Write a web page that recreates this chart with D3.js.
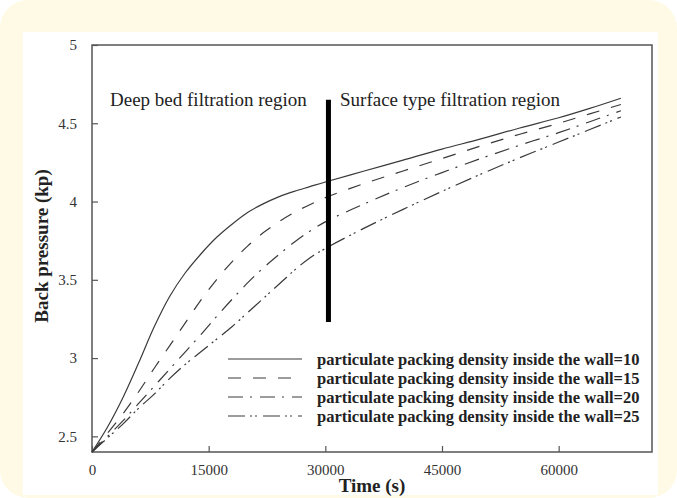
<!DOCTYPE html>
<html>
<head>
<meta charset="utf-8">
<script src="https://cdn.jsdelivr.net/npm/d3@7"></script>
<style>
    body { margin: 0; background: #fff; }
    svg { display: block; }
</style>
</head>
<body>
<div id="chart"></div>
<script>
// time axis (s) shared by all series
var timeS = [0, 2000, 4000, 6000, 8000, 10000, 12000, 14000, 16000, 18000, 20000, 22000,
    24000, 26000, 28000, 30000, 35000, 40000, 45000, 50000, 55000, 60000, 64000, 68000];

// back pressure (kp) for each packing density
var density10 = [2.4, 2.56, 2.75, 2.97, 3.20, 3.395, 3.545, 3.665, 3.77, 3.855, 3.93, 3.985,
    4.03, 4.065, 4.095, 4.125, 4.195, 4.265, 4.335, 4.40, 4.47, 4.535, 4.595, 4.66];
var density15 = [2.4, 2.52, 2.645, 2.785, 2.935, 3.08, 3.225, 3.37, 3.50, 3.615, 3.715, 3.80,
    3.87, 3.93, 3.98, 4.025, 4.115, 4.195, 4.275, 4.355, 4.43, 4.50, 4.56, 4.62];
var density20 = [2.4, 2.50, 2.60, 2.71, 2.82, 2.93, 3.04, 3.15, 3.265, 3.375, 3.48, 3.575,
    3.66, 3.74, 3.81, 3.87, 3.985, 4.09, 4.185, 4.275, 4.36, 4.44, 4.51, 4.58];
var density25 = [2.4, 2.49, 2.58, 2.68, 2.77, 2.87, 2.96, 3.04, 3.12, 3.20, 3.29, 3.38,
    3.47, 3.56, 3.64, 3.70, 3.83, 3.95, 4.065, 4.175, 4.28, 4.38, 4.46, 4.54];

var seriesLabels = ["particulate packing density inside the wall=10",
    "particulate packing density inside the wall=15",
    "particulate packing density inside the wall=20",
    "particulate packing density inside the wall=25"];

var xTicks = [0, 15000, 30000, 45000, 60000];
var yTicks = [2.5, 3, 3.5, 4, 4.5, 5];

// thick divider between the two regions
var dividerTime = 30400;
var dividerRange = [3.23, 4.65];
var regionLabels = ["Deep bed filtration region", "Surface type filtration region"];

var SERIF = "'Liberation Serif', 'Times New Roman', serif";

LineGraph = function(_parentElement){
    vis = this;
    this.parentElement = _parentElement;
    this.svgWidth = 677;
    this.svgHeight = 498;
    this.margin = { top: 45, right: 25, bottom: 46, left: 92 };
    this.width = 652 - vis.margin.left;
    this.height = 452 - vis.margin.top;
    this.dashes = ["none", "13,12", "15,7,2,8", "17,5,2,3,2,6"];
    this.initVis();
};

LineGraph.prototype.initVis = function() {
    vis = this;

    var root = d3.select("#" + vis.parentElement).append("svg")
        .attr("width", vis.svgWidth)
        .attr("height", vis.svgHeight)
        .attr("font-family", SERIF);

    // frame
    root.append("rect")
        .attr("width", vis.svgWidth).attr("height", vis.svgHeight)
        .attr("rx", 28).attr("fill", "#fffae6");
    root.append("rect")
        .attr("x", 23).attr("y", 32)
        .attr("width", 635).attr("height", 463)
        .attr("fill", "#fff");

    vis.svg = root.append("g")
        .attr("transform", "translate(" + vis.margin.left + "," + vis.margin.top + ")");

    vis.x = d3.scaleLinear().domain([0, 72000]).range([0, vis.width]);
    vis.y = d3.scaleLinear().domain([2.4, 5]).range([vis.height, 0]);

    vis.initAxes();
    vis.updateVis();
};

LineGraph.prototype.initAxes = function() {
    vis = this;
    var axisColor = "#555";

    var xAxis = d3.axisBottom(vis.x).tickValues(xTicks).tickSizeInner(-6).tickSizeOuter(0).tickPadding(12)
        .tickFormat(d3.format("d"));
    var yAxis = d3.axisLeft(vis.y).tickValues(yTicks).tickSizeInner(-6).tickSizeOuter(0).tickPadding(15)
        .tickFormat(d3.format("~g"));

    var xg = vis.svg.append("g")
        .attr("transform", "translate(0," + vis.height + ")")
        .call(xAxis);
    var yg = vis.svg.append("g").call(yAxis);

    [xg, yg].forEach(function(g){
        g.attr("font-family", SERIF).attr("font-size", 15);
        g.select(".domain").remove();
        g.selectAll("line").attr("stroke", axisColor).attr("stroke-width", 1.2);
        g.selectAll("text").attr("fill", "#333");
    });

    // box around plot
    vis.svg.append("rect")
        .attr("width", vis.width).attr("height", vis.height)
        .attr("fill", "none").attr("stroke", axisColor).attr("stroke-width", 1.5);

    vis.svg.append("text")
        .attr("x", 372 - vis.margin.left)
        .attr("y", 492 - vis.margin.top)
        .attr("text-anchor", "middle")
        .attr("font-size", "19px").attr("font-weight", "bold").attr("fill", "#222")
        .text("Time (s)");

    vis.svg.append("text")
        .attr("transform", "rotate(-90)")
        .attr("x", -(246 - vis.margin.top))
        .attr("y", 48 - vis.margin.left)
        .attr("text-anchor", "middle")
        .attr("font-size", "19px").attr("font-weight", "bold").attr("fill", "#222")
        .text("Back pressure (kp)");
};

LineGraph.prototype.updateVis = function() {
    vis = this;
    var series = [density10, density15, density20, density25];

    var line = d3.line()
        .x(function(d, i){ return vis.x(timeS[i]); })
        .y(function(d){ return vis.y(d); })
        .curve(d3.curveCatmullRom.alpha(0.5));

    vis.svg.append("g").selectAll("path")
        .data(series)
        .enter()
        .append("path")
        .attr("d", line)
        .attr("fill", "none")
        .attr("stroke", "#3a3a3a")
        .attr("stroke-width", 1.2)
        .attr("stroke-dasharray", function(d, i){ return vis.dashes[i]; });

    // divider
    vis.svg.append("line")
        .attr("x1", vis.x(dividerTime)).attr("x2", vis.x(dividerTime))
        .attr("y1", vis.y(dividerRange[0])).attr("y2", vis.y(dividerRange[1]))
        .attr("stroke", "#000").attr("stroke-width", 5);

    vis.svg.append("text")
        .attr("x", 110 - vis.margin.left).attr("y", 106 - vis.margin.top)
        .attr("font-size", "19px").attr("fill", "#222")
        .text(regionLabels[0]);
    vis.svg.append("text")
        .attr("x", 340 - vis.margin.left).attr("y", 106 - vis.margin.top)
        .attr("font-size", "19px").attr("fill", "#222")
        .text(regionLabels[1]);

    // legend
    var legend = vis.svg.append("g")
        .attr("transform", "translate(" + (228 - vis.margin.left) + "," + (359 - vis.margin.top) + ")");
    var rows = legend.selectAll("g")
        .data(seriesLabels)
        .enter()
        .append("g")
        .attr("transform", function(d, i){ return "translate(0," + i * 19 + ")"; });
    rows.append("line")
        .attr("x1", 0).attr("x2", 74)
        .attr("stroke", "#3a3a3a").attr("stroke-width", 1.2)
        .attr("stroke-dasharray", function(d, i){ return vis.dashes[i]; });
    rows.append("text")
        .attr("x", 89).attr("dy", "0.35em")
        .attr("font-size", "16.5px").attr("font-weight", "bold").attr("fill", "#222")
        .text(function(d){ return d; });
};

new LineGraph("chart");
</script>
</body>
</html>
